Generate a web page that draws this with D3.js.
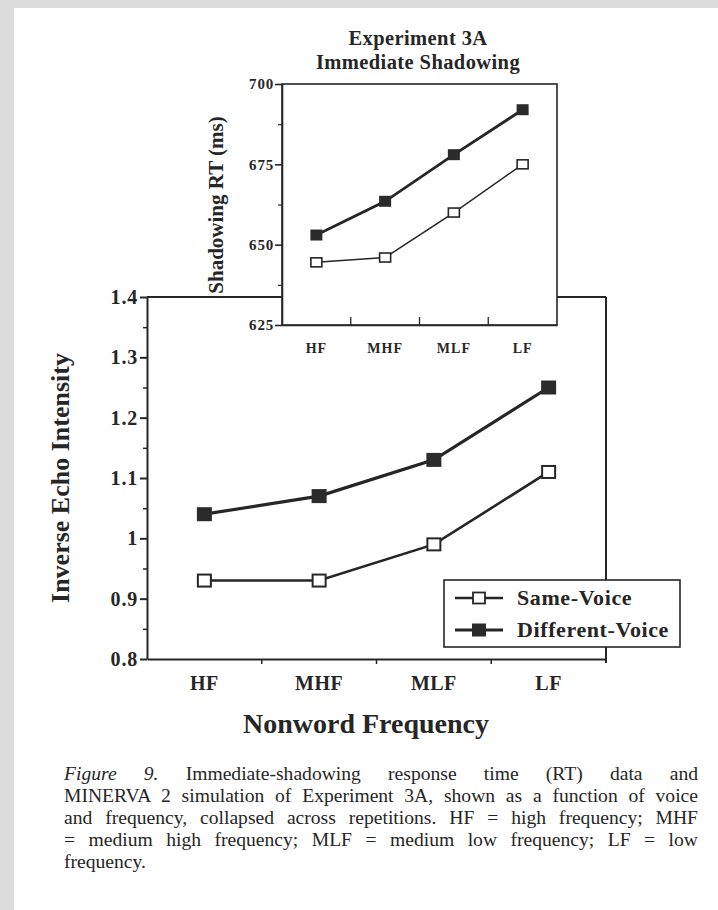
<!DOCTYPE html>
<html>
<head>
<meta charset="utf-8">
<script src="https://cdn.jsdelivr.net/npm/d3@7"></script>
<style>
  body { margin: 0; background: #dcdcdc; }
  #wrap { position: relative; width: 718px; height: 910px; }
  svg text { font-family: "Liberation Serif", "Times New Roman", serif; font-weight: bold; fill: #262626; }
  #caption {
    position: absolute; left: 64px; top: 763px; width: 634px;
    font-family: "Liberation Serif", "Times New Roman", serif;
    font-size: 19.6px; line-height: 22px; color: #262626;
  }
  #caption span { display: block; text-align: justify; text-align-last: justify; white-space: nowrap; }
  #caption span.last { text-align-last: left; }
</style>
</head>
<body>
<div id="wrap">
  <svg id="chart" width="718" height="910"></svg>
  <div id="caption"></div>
</div>
<script>
// --- Data ---
const categories = ["HF", "MHF", "MLF", "LF"];
const seriesNames = ["Same-Voice", "Different-Voice"];

// MINERVA 2 simulation (main panel)
const simSame = [0.93, 0.93, 0.99, 1.11];
const simDifferent = [1.04, 1.07, 1.13, 1.25];
const mainYTicks = [0.8, 0.9, 1.0, 1.1, 1.2, 1.3, 1.4];
const mainYTickLabels = ["0.8", "0.9", "1", "1.1", "1.2", "1.3", "1.4"];
const mainYMinor = [0.85, 0.95, 1.05, 1.15, 1.25, 1.35];

// Experiment 3A shadowing RT (inset)
const rtSame = [644.5, 646, 660, 675];
const rtDifferent = [653, 663.5, 678, 692];
const insetYTicks = [625, 650, 675, 700];
const insetYMinor = [637.5, 662.5, 687.5];

const captionLines = [
  "<i>Figure 9.</i> Immediate-shadowing response time (RT) data and",
  "MINERVA 2 simulation of Experiment 3A, shown as a function of voice",
  "and frequency, collapsed across repetitions. HF = high frequency; MHF",
  "= medium high frequency; MLF = medium low frequency; LF = low",
  "frequency."
];

const ink = "#262626";
const svg = d3.select("#chart");

// white page on the grey scan border
svg.append("rect").attr("x", 14).attr("y", 8).attr("width", 704).attr("height", 902).attr("fill", "#fff");

function pts(vals) {
  return categories.map((c, i) => ({ cat: c, v: vals[i] }));
}

function styleAxis(g, w) {
  g.attr("font-family", null).attr("font-size", null);
  g.selectAll("path, line").attr("stroke", ink).attr("stroke-width", w);
  g.selectAll("text").attr("fill", ink);
}

// ================= MAIN PANEL =================
const x = d3.scaleBand().domain(categories).range([147, 606]);
const y = d3.scaleLinear().domain([0.8, 1.4]).range([659, 297]);
const cx = d => x(d.cat) + x.bandwidth() / 2;

// frame (top and right)
svg.append("line").attr("x1", x.range()[0]).attr("x2", x.range()[1])
  .attr("y1", y(1.4)).attr("y2", y(1.4)).attr("stroke", ink).attr("stroke-width", 2);
svg.append("line").attr("x1", x.range()[1]).attr("x2", x.range()[1])
  .attr("y1", y(1.4)).attr("y2", y(0.8) + 4).attr("stroke", ink).attr("stroke-width", 2);

// y axis
const yAxis = svg.append("g").attr("transform", `translate(${x.range()[0]},0)`)
  .call(d3.axisLeft(y).tickValues(mainYTicks).tickSize(7).tickSizeOuter(0)
    .tickPadding(2).tickFormat((d, i) => mainYTickLabels[i]));
styleAxis(yAxis, 2);
yAxis.selectAll("text").style("font-size", "20px").style("letter-spacing", "0.8px");
const yMinor = svg.append("g").attr("transform", `translate(${x.range()[0]},0)`)
  .call(d3.axisLeft(y).tickValues(mainYMinor).tickSize(4).tickFormat(""));
yMinor.select(".domain").remove();
styleAxis(yMinor, 1.5);

// x axis
const xAxis = svg.append("g").attr("transform", `translate(0,${y(0.8)})`)
  .call(d3.axisBottom(x).tickSize(0).tickSizeOuter(0).tickPadding(17));
styleAxis(xAxis, 2);
xAxis.selectAll("text").style("font-size", "20px").style("letter-spacing", "0.5px");
svg.append("g").selectAll("line")
  .data(categories.slice(1))
  .join("line")
  .attr("x1", d => x(d)).attr("x2", d => x(d))
  .attr("y1", y(0.8)).attr("y2", y(0.8) + 5)
  .attr("stroke", ink).attr("stroke-width", 1.5);

// axis titles
svg.append("text").attr("transform", `translate(69,478) rotate(-90)`)
  .attr("text-anchor", "middle").style("font-size", "26px").text("Inverse Echo Intensity");
svg.append("text").attr("x", 366).attr("y", 733)
  .attr("text-anchor", "middle").style("font-size", "28px").text("Nonword Frequency");

const mainLine = d3.line().x(cx).y(d => y(d.v));

// series lines
svg.append("path").datum(pts(simSame)).attr("d", mainLine)
  .attr("fill", "none").attr("stroke", ink).attr("stroke-width", 2.6);
svg.append("path").datum(pts(simDifferent)).attr("d", mainLine)
  .attr("fill", "none").attr("stroke", ink).attr("stroke-width", 3.2);

// markers
svg.append("g").selectAll("rect").data(pts(simSame)).join("rect")
  .attr("x", d => cx(d) - 6.5).attr("y", d => y(d.v) - 6)
  .attr("width", 13).attr("height", 12)
  .attr("fill", "#fff").attr("stroke", ink).attr("stroke-width", 2);
svg.append("g").selectAll("rect").data(pts(simDifferent)).join("rect")
  .attr("x", d => cx(d) - 7.5).attr("y", d => y(d.v) - 7)
  .attr("width", 15).attr("height", 14).attr("fill", "#2b2b2b");

// --- Legend ---
const legend = svg.append("g").attr("transform", "translate(444,580)");
legend.append("rect").attr("width", 236).attr("height", 67)
  .attr("fill", "#fff").attr("stroke", ink).attr("stroke-width", 1.6);
const legRows = legend.selectAll("g.row").data(seriesNames).join("g")
  .attr("class", "row").attr("transform", (d, i) => `translate(0,${18 + i * 32})`);
legRows.append("line").attr("x1", 11).attr("x2", 59)
  .attr("stroke", ink).attr("stroke-width", (d, i) => i ? 3 : 2.4);
legRows.append("rect")
  .attr("x", (d, i) => i ? 28 : 29).attr("y", (d, i) => i ? -6.5 : -5.5)
  .attr("width", (d, i) => i ? 14 : 12).attr("height", (d, i) => i ? 13 : 11)
  .attr("fill", (d, i) => i ? "#2b2b2b" : "#fff")
  .attr("stroke", (d, i) => i ? "none" : ink).attr("stroke-width", 1.8);
legRows.append("text").attr("x", 73).attr("y", 7)
  .style("font-size", "22px").style("letter-spacing", "0.6px").text(d => d);

// ================= INSET =================
const xi = d3.scaleBand().domain(categories).range([282, 557]);
const yi = d3.scaleLinear().domain([625, 700]).range([325, 84]);
const cxi = d => xi(d.cat) + xi.bandwidth() / 2;

svg.append("rect").attr("x", xi.range()[0]).attr("y", yi(700))
  .attr("width", xi.range()[1] - xi.range()[0]).attr("height", yi(625) - yi(700))
  .attr("fill", "#fff").attr("stroke", ink).attr("stroke-width", 1.6);

const yiAxis = svg.append("g").attr("transform", `translate(${xi.range()[0]},0)`)
  .call(d3.axisLeft(yi).tickValues(insetYTicks).tickSize(7).tickSizeOuter(0).tickPadding(1));
styleAxis(yiAxis, 1.6);
yiAxis.selectAll("text").style("font-size", "15px").style("letter-spacing", "0.8px");
const yiMinor = svg.append("g").attr("transform", `translate(${xi.range()[0]},0)`)
  .call(d3.axisLeft(yi).tickValues(insetYMinor).tickSize(4).tickFormat(""));
yiMinor.select(".domain").remove();
styleAxis(yiMinor, 1.2);

const xiAxis = svg.append("g").attr("transform", `translate(0,${yi(625)})`)
  .call(d3.axisBottom(xi).tickSize(0).tickSizeOuter(0).tickPadding(18));
styleAxis(xiAxis, 1.6);
xiAxis.selectAll("text").style("font-size", "14px").style("letter-spacing", "1px");
svg.append("g").selectAll("line")
  .data(categories.slice(1))
  .join("line")
  .attr("x1", d => xi(d)).attr("x2", d => xi(d))
  .attr("y1", yi(625)).attr("y2", yi(625) - 8)
  .attr("stroke", ink).attr("stroke-width", 1.3);

// inset titles
svg.append("text").attr("x", 418).attr("y", 45).attr("text-anchor", "middle")
  .style("font-size", "20.5px").style("letter-spacing", "0.4px").text("Experiment 3A");
svg.append("text").attr("x", 418).attr("y", 69).attr("text-anchor", "middle")
  .style("font-size", "20.5px").style("letter-spacing", "0.4px").text("Immediate Shadowing");
svg.append("text").attr("transform", "translate(223,205) rotate(-90)")
  .attr("text-anchor", "middle").style("font-size", "21px").text("Shadowing RT (ms)");

const insetLine = d3.line().x(cxi).y(d => yi(d.v));
svg.append("path").datum(pts(rtSame)).attr("d", insetLine)
  .attr("fill", "none").attr("stroke", ink).attr("stroke-width", 1.5);
svg.append("path").datum(pts(rtDifferent)).attr("d", insetLine)
  .attr("fill", "none").attr("stroke", ink).attr("stroke-width", 2.8);

svg.append("g").selectAll("rect").data(pts(rtSame)).join("rect")
  .attr("x", d => cxi(d) - 5.5).attr("y", d => yi(d.v) - 4.5)
  .attr("width", 11).attr("height", 9)
  .attr("fill", "#fff").attr("stroke", ink).attr("stroke-width", 1.6);
svg.append("g").selectAll("rect").data(pts(rtDifferent)).join("rect")
  .attr("x", d => cxi(d) - 6).attr("y", d => yi(d.v) - 5.5)
  .attr("width", 12).attr("height", 11).attr("fill", "#2b2b2b");

// --- Caption ---
d3.select("#caption").selectAll("span").data(captionLines).join("span")
  .attr("class", (d, i) => i === captionLines.length - 1 ? "last" : null)
  .html(d => d);
</script>
</body>
</html>
